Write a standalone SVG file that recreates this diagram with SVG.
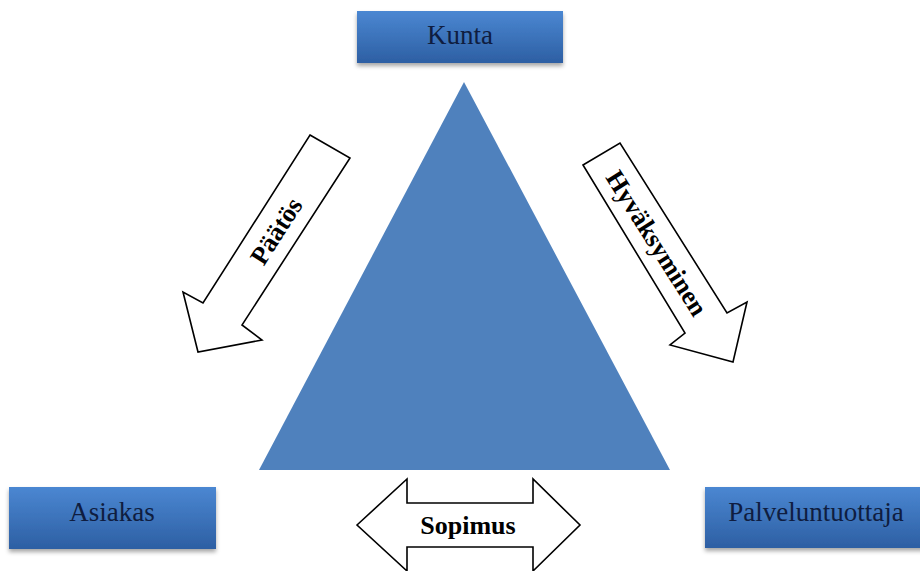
<svg xmlns="http://www.w3.org/2000/svg" width="920" height="571" viewBox="0 0 920 571">
<defs>
<linearGradient id="boxg" x1="0" y1="0" x2="0" y2="1">
<stop offset="0" stop-color="#4b87d2"/>
<stop offset="1" stop-color="#2d5fa3"/>
</linearGradient>
<filter id="sh" x="-10%" y="-20%" width="120%" height="160%">
<feDropShadow dx="0" dy="3" stdDeviation="2" flood-color="#000" flood-opacity="0.35"/>
</filter>
<style>
.box{fill:url(#boxg);filter:url(#sh);}
.lbl{font-family:"Liberation Serif","Times New Roman",serif;font-size:27px;fill:#0f1d40;text-anchor:middle;}
.arr{fill:#fff;stroke:#000;stroke-width:1.6;stroke-linejoin:miter;}
.alb{font-family:"Liberation Serif","Times New Roman",serif;font-size:26px;font-weight:bold;fill:#000;text-anchor:middle;}
</style>
</defs>
<rect width="920" height="571" fill="#fff"/>
<polygon id="triangle" points="464,82 259,470 670,470" fill="#4f81bd"/>
<g id="kunta"><rect class="box" x="357" y="11" width="206" height="52"/><text class="lbl" x="460" y="44">Kunta</text></g>
<g id="asiakas"><rect class="box" x="9" y="487" width="207" height="62"/><text class="lbl" x="112" y="521">Asiakas</text></g>
<g id="palveluntuottaja"><rect class="box" x="705" y="487" width="225" height="61"/><text class="lbl" x="816" y="521">Palveluntuottaja</text></g>
<g id="connectors">
<g id="paatos"><polygon class="arr" points="310,135 350,158 242,325 262,340 198,352 183,292 203,303"/><text class="alb" transform="translate(276,231) rotate(-57.3)" y="9">Päätös</text></g>
<g id="hyvaksyminen"><polygon class="arr" points="583,165 620,143 727,313 747,302 733,362 670,345 685,333"/><text class="alb" transform="translate(657,243) rotate(57.7)" y="9">Hyväksyminen</text></g>
<g id="sopimus"><polygon class="arr" points="357,525 407,479 407,503 533,503 533,479 580,525 533,571 533,547 407,547 407,571"/><text class="alb" x="468" y="534">Sopimus</text></g>
</g>
</svg>
